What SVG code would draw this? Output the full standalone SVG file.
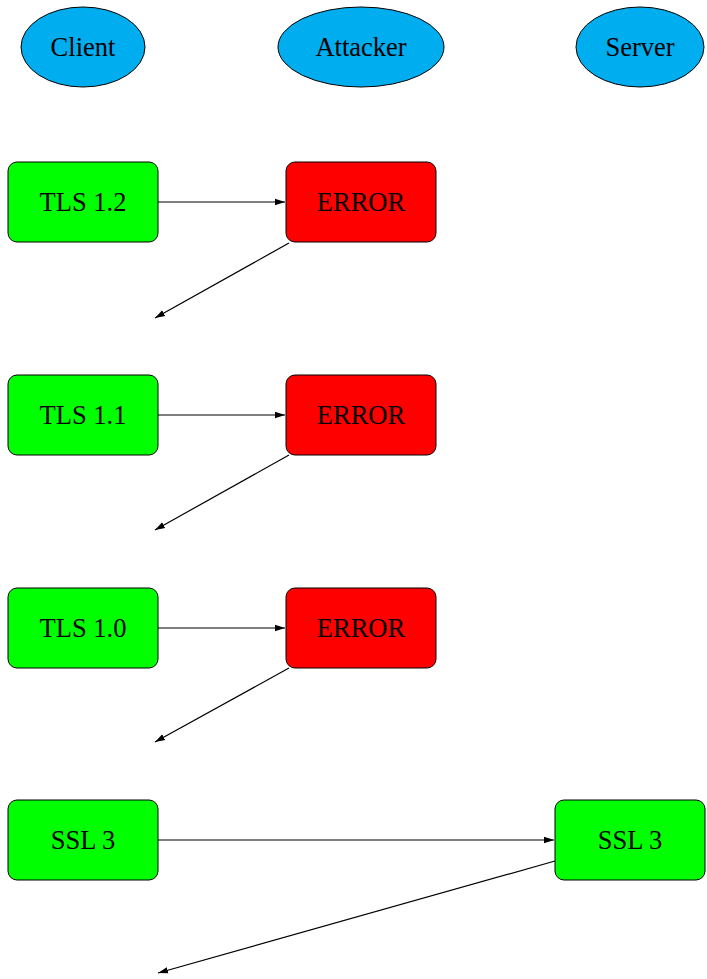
<svg xmlns="http://www.w3.org/2000/svg" width="707" height="979" viewBox="0 0 707 979">
<defs>
<marker id="ah" markerWidth="11" markerHeight="8" refX="10" refY="4" orient="auto" markerUnits="userSpaceOnUse">
<path d="M0,0.8 L10,4 L0,7.2 Z" fill="#000"/>
</marker>
</defs>
<style>
.actor{fill:#00adef;stroke:#000;stroke-width:1}
.ok{fill:#00ff00;stroke:#000;stroke-width:1}
.err{fill:#ff0000;stroke:#000;stroke-width:1}
text{font-family:"Liberation Serif","DejaVu Serif",serif;font-size:26.5px;fill:#000;text-anchor:middle;dominant-baseline:central}
.c line{stroke:#000;stroke-width:1.2;marker-end:url(#ah)}
</style>
<rect width="707" height="979" fill="#fff"/>
<g id="client"><ellipse class="actor" cx="83" cy="47" rx="62" ry="40"/><text x="83" y="47">Client</text></g>
<g id="attacker"><ellipse class="actor" cx="361" cy="47" rx="83" ry="40"/><text x="361" y="47">Attacker</text></g>
<g id="server"><ellipse class="actor" cx="640" cy="47" rx="64" ry="40"/><text x="640" y="47">Server</text></g>

<g id="tls12"><rect class="ok" x="8" y="162" width="150" height="80" rx="9"/><text x="83" y="202">TLS 1.2</text></g>
<g id="err1"><rect class="err" x="286" y="162" width="150" height="80" rx="9"/><text x="361" y="202">ERROR</text></g>
<g id="tls11"><rect class="ok" x="8" y="375" width="150" height="80" rx="9"/><text x="83" y="415">TLS 1.1</text></g>
<g id="err2"><rect class="err" x="286" y="375" width="150" height="80" rx="9"/><text x="361" y="415">ERROR</text></g>
<g id="tls10"><rect class="ok" x="8" y="588" width="150" height="80" rx="9"/><text x="83" y="628">TLS 1.0</text></g>
<g id="err3"><rect class="err" x="286" y="588" width="150" height="80" rx="9"/><text x="361" y="628">ERROR</text></g>
<g id="ssl3c"><rect class="ok" x="8" y="800" width="150" height="80" rx="9"/><text x="83" y="840">SSL 3</text></g>
<g id="ssl3s"><rect class="ok" x="555" y="800" width="150" height="80" rx="9"/><text x="630" y="840">SSL 3</text></g>

<g id="connectors" class="c">
<line x1="158" y1="202" x2="285" y2="202"/>
<line x1="289" y1="243" x2="155" y2="318"/>
<line x1="158" y1="415" x2="285" y2="415"/>
<line x1="289" y1="455" x2="155" y2="530"/>
<line x1="158" y1="628" x2="285" y2="628"/>
<line x1="289" y1="668" x2="155" y2="742"/>
<line x1="158" y1="840" x2="554" y2="840"/>
<line x1="555" y1="861" x2="158" y2="973"/>
</g>
</svg>
